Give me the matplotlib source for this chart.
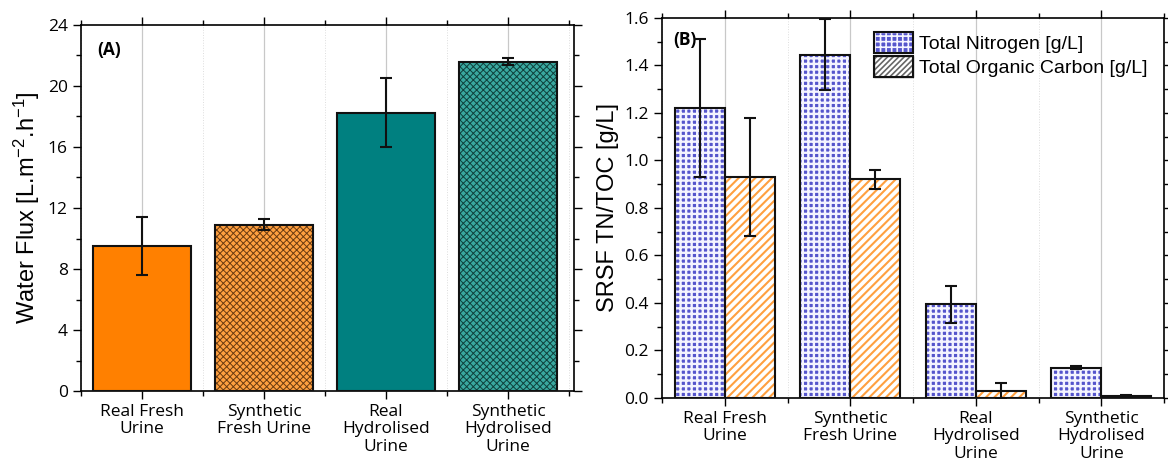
import numpy as np
import matplotlib
matplotlib.use('Agg')
import matplotlib.pyplot as plt
from matplotlib.patches import Patch
from matplotlib.ticker import MultipleLocator

plt.rcParams['font.family'] = ['Open Sans', 'DejaVu Sans']
plt.rcParams['mathtext.fontset'] = 'custom'
plt.rcParams['mathtext.rm'] = 'Liberation Sans'
plt.rcParams['mathtext.it'] = 'Liberation Sans'
plt.rcParams['hatch.linewidth'] = 0.7

# Datos
categorias = ['Real Fresh\nUrine', 'Synthetic\nFresh Urine', 'Real\nHydrolised\nUrine', 'Synthetic\nHydrolised\nUrine']
flux = [9.5, 10.9, 18.25, 21.6]
flux_err = [1.9, 0.35, 2.25, 0.22]
tn = [1.22, 1.445, 0.395, 0.128]
tn_err = [0.29, 0.15, 0.078, 0.006]
toc = [0.93, 0.922, 0.03, 0.01]
toc_err = [0.247, 0.04, 0.035, 0.002]

x = np.arange(1, len(categorias) + 1)

fig = plt.figure(figsize=(11.68, 4.67), dpi=100)
ax1 = fig.add_axes([0.0693, 0.1627, 0.4221, 0.7838])
ax2 = fig.add_axes([0.5668, 0.1478, 0.4298, 0.8137])


def estilo_ejes(ax):
    ax.set_axisbelow(True)
    ax.set_xticks(x)
    ax.set_xticklabels(categorias, fontsize=12.5, linespacing=1.1)
    ax.xaxis.set_minor_locator(MultipleLocator(0.5))
    ax.tick_params(which='both', direction='out', top=True, right=True, labelsize=12.5)
    ax.tick_params(which='major', length=6, width=1.0)
    ax.tick_params(which='minor', length=3.5, width=1.0)
    ax.grid(True, axis='x', which='major', color='#c8c8c8', lw=0.9)
    ax.grid(True, axis='x', which='minor', color='#dddddd', lw=0.7, ls=':')
    for s in ax.spines.values():
        s.set_linewidth(1.2)


# Gráfica A: flujo de agua
colores_a = ['#ff8000', '#ffa040', '#008080', '#3aa8a0']
hatches_a = [None, 'xxxxx', None, 'xxxxx']
hatch_col = ['black', '#6a3a10', 'black', '#0e403c']
for i in range(4):
    ax1.bar(x[i], flux[i], width=0.8, color=colores_a[i], edgecolor=hatch_col[i],
            hatch=hatches_a[i], linewidth=0, zorder=2)
ax1.bar(x, flux, width=0.8, facecolor='none', edgecolor='#111111', linewidth=1.5, zorder=3)
ax1.errorbar(x, flux, yerr=flux_err, fmt='none', ecolor='#111111', elinewidth=1.5,
             capsize=4, capthick=1.5, zorder=4)
ax1.set_xlim(0.5, 4.54)
ax1.set_ylim(0, 24)
ax1.yaxis.set_major_locator(MultipleLocator(4))
ax1.yaxis.set_minor_locator(MultipleLocator(2))
estilo_ejes(ax1)
ax1.set_ylabel(r'Water Flux [L.m$^{-2}$.h$^{-1}$]', fontsize=17, family='Liberation Sans')
ax1.text(0.033, 0.955, '(A)', transform=ax1.transAxes, fontsize=12.5, fontweight='bold', va='top')

# Gráfica B: TN / TOC
ancho = 0.4
plt.rcParams['hatch.linewidth'] = 1.7
ax2.bar(x - ancho / 2, tn, width=ancho, color='#5555cc', edgecolor='#f4f4ff',
        hatch='+++', linewidth=0, zorder=2)
plt.rcParams['hatch.linewidth'] = 1.5
ax2.bar(x + ancho / 2, toc, width=ancho, color='white', edgecolor='#ffa040',
        hatch='////', linewidth=0, zorder=2)
ax2.bar(x - ancho / 2, tn, width=ancho, facecolor='none', edgecolor='#111111', linewidth=1.5, zorder=3)
ax2.bar(x + ancho / 2, toc, width=ancho, facecolor='none', edgecolor='#111111', linewidth=1.5, zorder=3)
ax2.errorbar(x - ancho / 2, tn, yerr=tn_err, fmt='none', ecolor='#111111', elinewidth=1.5,
             capsize=4, capthick=1.5, zorder=4)
ax2.errorbar(x + ancho / 2, toc, yerr=toc_err, fmt='none', ecolor='#111111', elinewidth=1.5,
             capsize=4, capthick=1.5, zorder=4)
ax2.set_xlim(0.5, 4.5)
ax2.set_ylim(0, 1.6)
ax2.yaxis.set_major_locator(MultipleLocator(0.2))
ax2.yaxis.set_minor_locator(MultipleLocator(0.1))
ax2.yaxis.set_major_formatter(plt.FormatStrFormatter('%.1f'))
estilo_ejes(ax2)
ax2.set_ylabel('SRSF TN/TOC [g/L]', fontsize=17, family='Liberation Sans')
ax2.text(0.023, 0.965, '(B)', transform=ax2.transAxes, fontsize=12.5, fontweight='bold', va='top')

plt.rcParams['hatch.linewidth'] = 1.7
h_tn = Patch(facecolor='#5555cc', edgecolor='#f4f4ff', hatch='+++', label='Total Nitrogen [g/L]')
plt.rcParams['hatch.linewidth'] = 1.2
h_toc = Patch(facecolor='white', edgecolor='#666666', hatch='//////', label='Total Organic Carbon [g/L]')
leg = ax2.legend(handles=[h_tn, h_toc], loc='upper right', bbox_to_anchor=(0.99, 0.995),
                 frameon=False, handlelength=2.0, handleheight=1.3, labelspacing=0.15,
                 handletextpad=0.3, borderaxespad=0.2, prop={'family': 'Liberation Sans', 'size': 14})
for p in leg.get_patches():
    p.set_zorder(5)

# borde negro de los símbolos de la leyenda
fig.canvas.draw()
for p in leg.get_patches():
    ext = p.get_window_extent()
    fig.patches.append(plt.Rectangle((ext.x0, ext.y0), ext.width, ext.height, transform=None,
                                     fill=False, edgecolor='#111111', linewidth=1.5, zorder=6))

plt.savefig('out.png', dpi=100)
